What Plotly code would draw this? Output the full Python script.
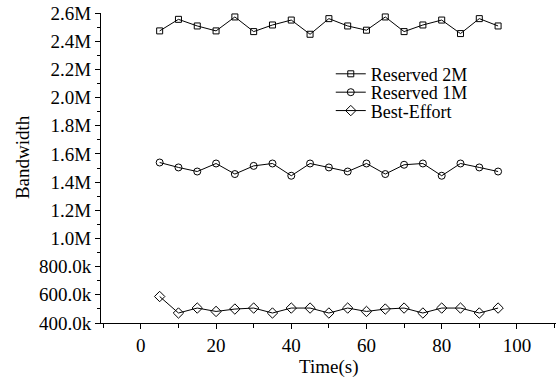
import plotly.graph_objects as go

time_s = [5, 10, 15, 20, 25, 30, 35, 40, 45, 50, 55, 60, 65, 70, 75, 80, 85, 90, 95]
reserved_2m = [2.473e6, 2.555e6, 2.508e6, 2.473e6, 2.572e6, 2.468e6, 2.515e6, 2.550e6, 2.449e6, 2.560e6,
               2.508e6, 2.478e6, 2.572e6, 2.468e6, 2.515e6, 2.550e6, 2.454e6, 2.560e6, 2.508e6]
reserved_1m = [1.539e6, 1.504e6, 1.475e6, 1.532e6, 1.457e6, 1.515e6, 1.532e6, 1.445e6, 1.532e6, 1.504e6,
               1.475e6, 1.532e6, 1.457e6, 1.523e6, 1.532e6, 1.445e6, 1.532e6, 1.504e6, 1.475e6]
best_effort = [0.588e6, 0.471e6, 0.506e6, 0.482e6, 0.499e6, 0.506e6, 0.471e6, 0.506e6, 0.506e6, 0.471e6,
               0.506e6, 0.482e6, 0.499e6, 0.506e6, 0.471e6, 0.506e6, 0.506e6, 0.471e6, 0.506e6]

series_names = ["Reserved 2M", "Reserved 1M", "Best-Effort"]
ytick_vals = [400e3, 600e3, 800e3, 1.0e6, 1.2e6, 1.4e6, 1.6e6, 1.8e6, 2.0e6, 2.2e6, 2.4e6, 2.6e6]
ytick_text = ["400.0k", "600.0k", "800.0k", "1.0M", "1.2M", "1.4M", "1.6M", "1.8M", "2.0M", "2.2M", "2.4M", "2.6M"]
xtick_vals = [0, 20, 40, 60, 80, 100]
x_title = "Time(s)"
y_title = "Bandwidth"

FONT = "Liberation Serif, Times New Roman, serif"
W, H = 559, 382
ML, MR, MT, MB = 101, 3, 11, 59
plot_w = W - ML - MR
plot_h = H - MT - MB

def ypaper(py):
    return (H - MB - py) / plot_h

def xpaper(px):
    return (px - ML) / plot_w

fig = go.Figure()
specs = [(series_names[0], reserved_2m, "square-open", 6, "legend"),
         (series_names[1], reserved_1m, "circle-open", 7, "legend2"),
         (series_names[2], best_effort, "diamond-open", 8, "legend3")]
for name, ys, sym, sz, lg in specs:
    fig.add_trace(go.Scatter(x=time_s, y=ys, name=name, mode="lines+markers", legend=lg,
                             line=dict(color="black", width=1),
                             marker=dict(symbol=sym, size=sz, color="black",
                                         line=dict(color="black", width=1))))

leg_common = dict(x=0.505, xanchor="left", yanchor="middle",
                  bgcolor="rgba(0,0,0,0)", borderwidth=0,
                  font=dict(family=FONT, size=18, color="black"))

fig.update_layout(
    width=W, height=H,
    margin=dict(l=ML, r=MR, t=MT, b=MB),
    paper_bgcolor="white", plot_bgcolor="white",
    font=dict(family=FONT, size=19, color="black"),
    showlegend=True,
    legend=dict(y=ypaper(72.5), **leg_common),
    legend2=dict(y=ypaper(91), **leg_common),
    legend3=dict(y=ypaper(109.5), **leg_common),
    xaxis=dict(range=[-10.6, 110.4], tickmode="array", tickvals=xtick_vals,
               showgrid=False, zeroline=False, showline=True, linecolor="black", linewidth=1,
               ticks="outside", ticklen=5, tickcolor="black",
               minor=dict(tickmode="linear", tick0=0, dtick=10, ticklen=4, ticks="outside", tickcolor="black")),
    yaxis=dict(range=[400e3, 2.6e6], tickmode="array", tickvals=ytick_vals, ticktext=ytick_text,
               showgrid=False, zeroline=False, showline=True, linecolor="black", linewidth=1,
               ticks="outside", ticklen=5, tickcolor="black",
               minor=dict(tickmode="linear", tick0=0, dtick=100e3, ticklen=3, ticks="outside", tickcolor="black")),
    annotations=[
        dict(text=x_title, xref="paper", yref="paper", x=xpaper(328.5), y=ypaper(367),
             xanchor="center", yanchor="middle", showarrow=False,
             font=dict(family=FONT, size=19, color="black")),
        dict(text=y_title, xref="paper", yref="paper", x=xpaper(22), y=ypaper(156),
             xanchor="center", yanchor="middle", showarrow=False, textangle=-90,
             font=dict(family=FONT, size=19, color="black")),
    ],
)

fig.write_html("out.html", config={"displayModeBar": False},
               post_script="document.body.style.margin='0';document.body.style.overflow='hidden';")
